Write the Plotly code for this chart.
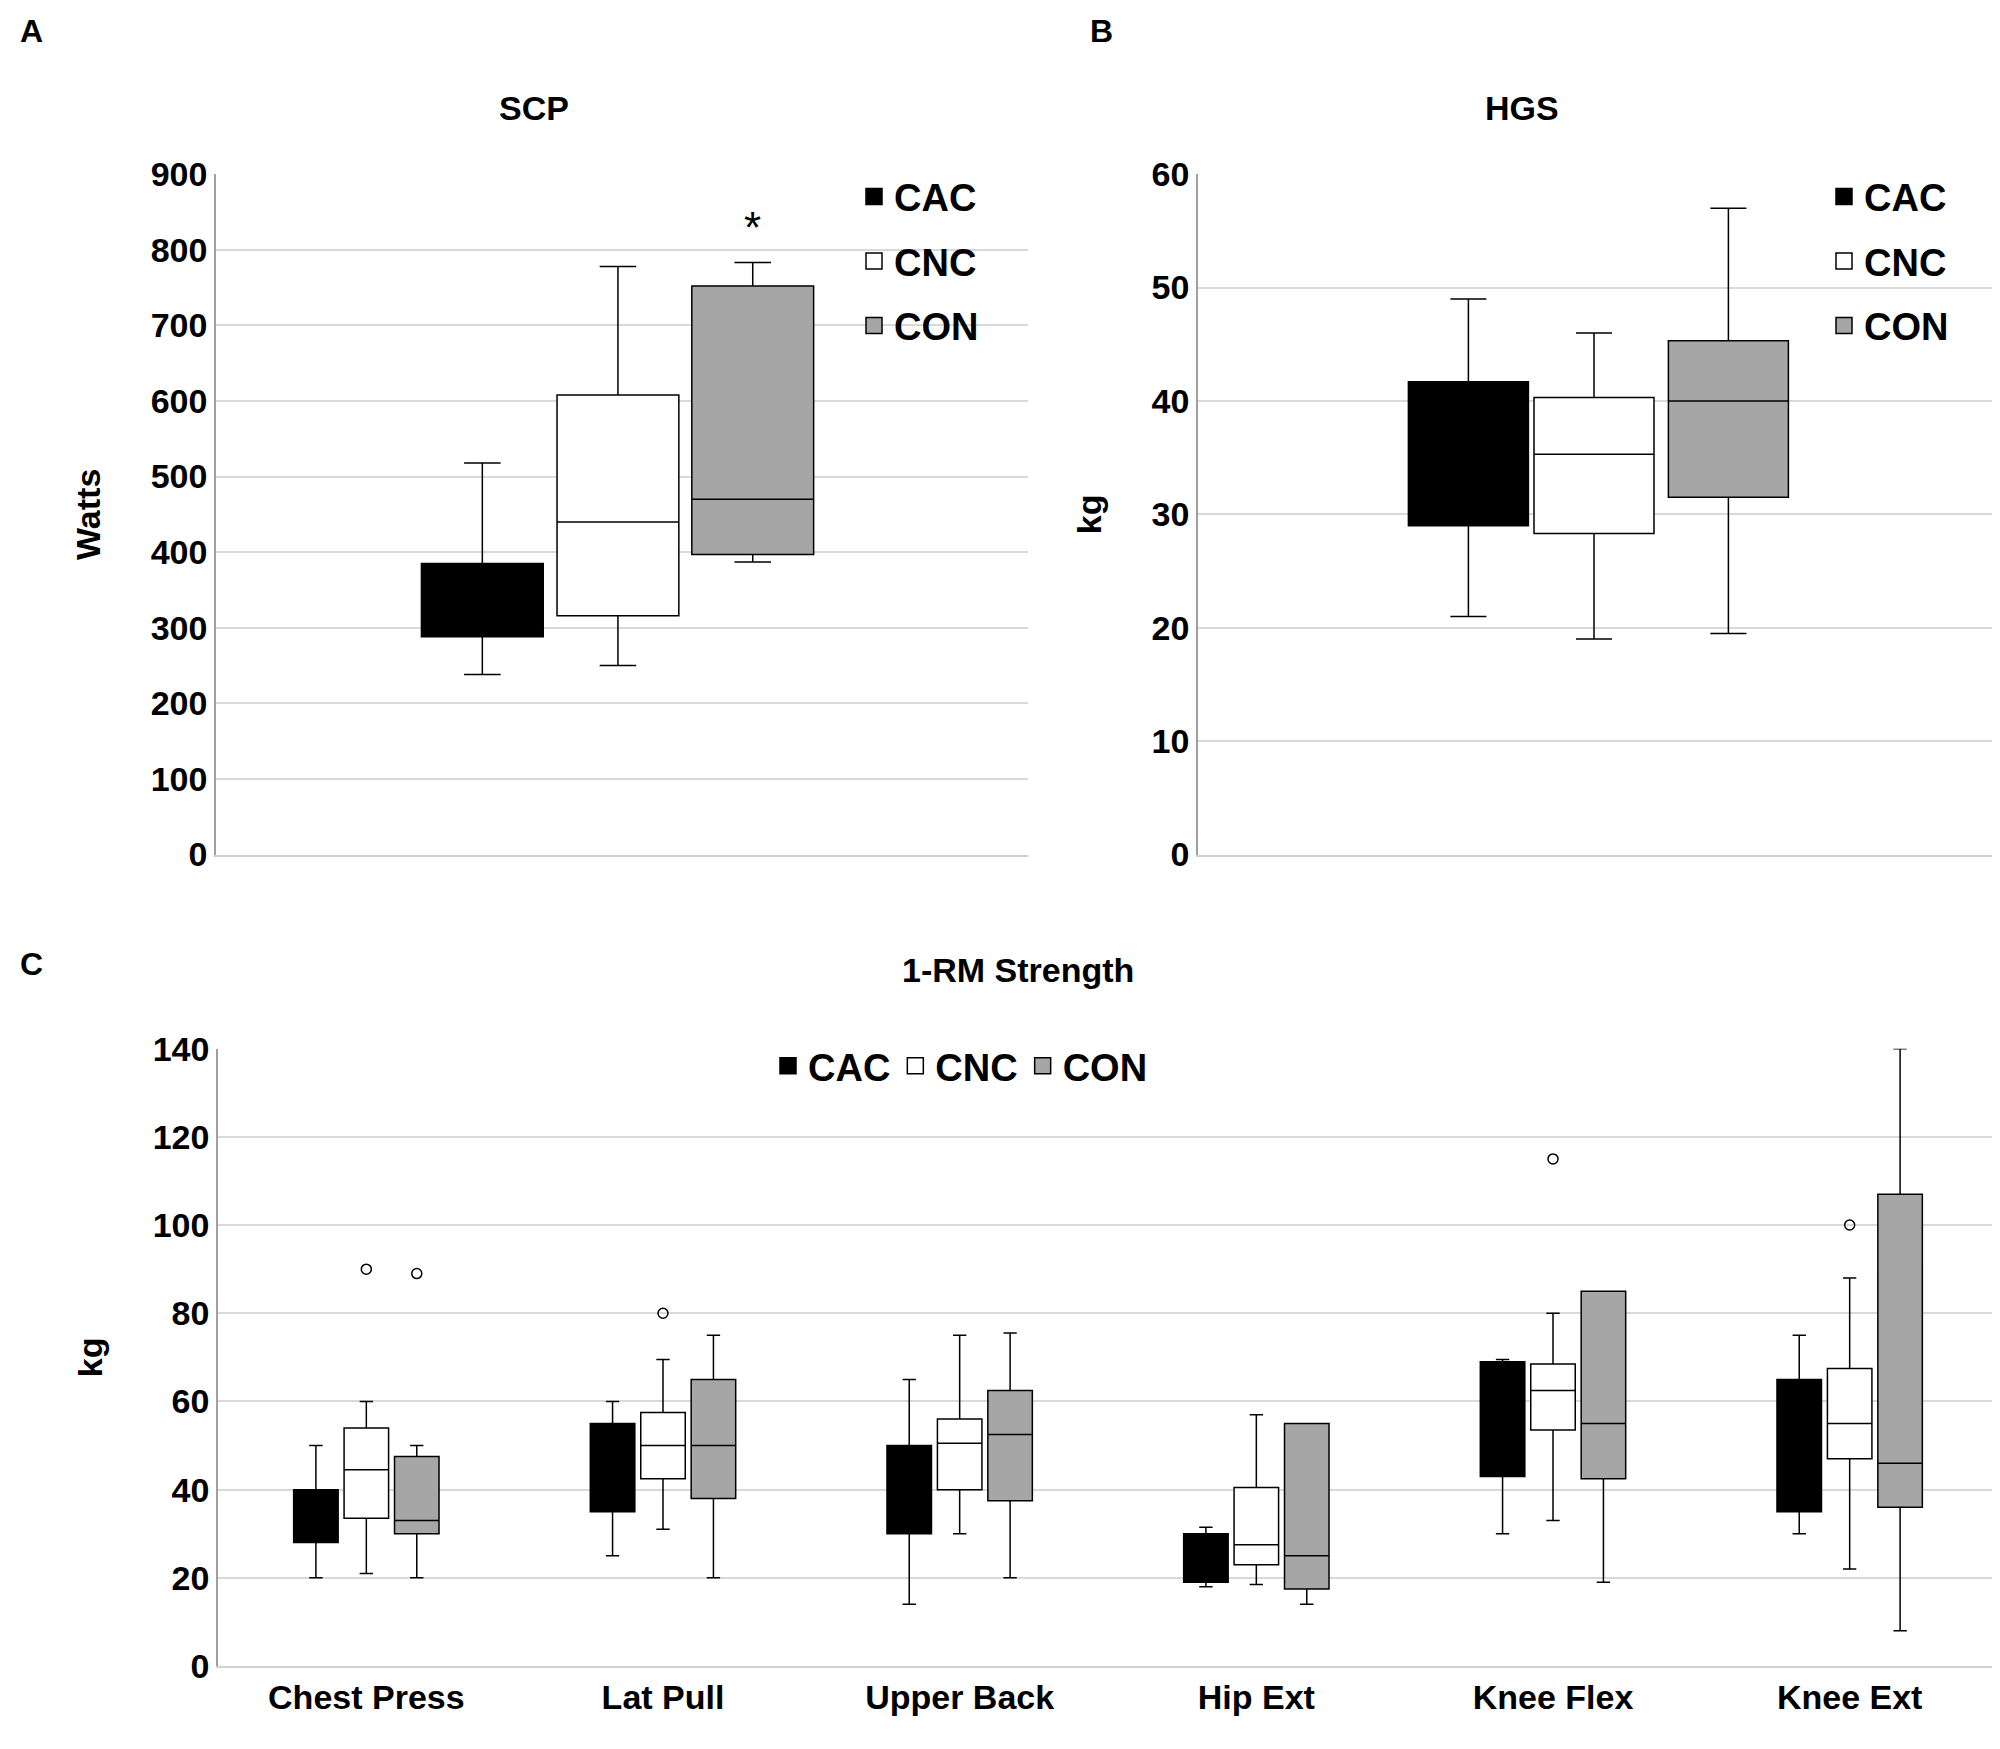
import plotly.graph_objects as go

groups = ["CAC", "CNC", "CON"]
fills = ["black", "white", "#a6a6a6"]

# Panel A: SCP (Watts) [low, q1, median, q3, high]
scp = {"CAC": [238, 288, 385, 385, 518],
       "CNC": [250, 316, 440, 608, 778],
       "CON": [387, 397, 470, 752, 783]}
# Panel B: HGS (kg)
hgs = {"CAC": [21, 29, 41.7, 41.7, 49],
       "CNC": [19, 28.3, 35.3, 40.3, 46],
       "CON": [19.5, 31.5, 40, 45.3, 57]}
# Panel C: 1-RM strength (kg)
exercises = ["Chest Press", "Lat Pull", "Upper Back", "Hip Ext", "Knee Flex", "Knee Ext"]
rm = {
    "CAC": [[20, 28, 40, 40, 50], [25, 35, 55, 55, 60], [14, 30, 50, 50, 65],
            [18, 19, 30, 30, 31.5], [30, 43, 69, 69, 69.5], [30, 35, 65, 65, 75]],
    "CNC": [[21, 33.5, 44.5, 54, 60], [31, 42.5, 50, 57.5, 69.5], [30, 40, 50.5, 56, 75],
            [18.5, 23, 27.5, 40.5, 57], [33, 53.5, 62.5, 68.5, 80], [22, 47, 55, 67.5, 88]],
    "CON": [[20, 30, 33, 47.5, 50], [20, 38, 50, 65, 75], [20, 37.5, 52.5, 62.5, 75.5],
            [14, 17.5, 25, 55, 55], [19, 42.5, 55, 85, 85], [8, 36, 46, 107, 140]],
}
outliers = {"CNC": [(0, 90), (1, 80), (4, 115), (5, 100)], "CON": [(0, 89)]}

FONT = "Liberation Sans"
fig = go.Figure()

posA = [0.328, 0.495, 0.661]
posB = [0.338, 0.495, 0.663]
offC = [-0.17, 0, 0.17]

def box(x, vals, i, xa, ya, width):
    return go.Box(x=x, lowerfence=[v[0] for v in vals], q1=[v[1] for v in vals],
                  median=[v[2] for v in vals], q3=[v[3] for v in vals],
                  upperfence=[v[4] for v in vals], fillcolor=fills[i],
                  line=dict(color="black", width=1.5), width=width, name=groups[i],
                  xaxis=xa, yaxis=ya, showlegend=False, boxpoints=False, whiskerwidth=0.3)

def leg(i, xa, ya, legend):
    return go.Scatter(x=[None], y=[None], mode="markers", name="<b>%s</b>" % groups[i],
                      marker=dict(symbol="square", size=26, color=fills[i],
                                  line=dict(color="black", width=1.5)),
                      xaxis=xa, yaxis=ya, legend=legend, legendgroup=legend + groups[i])

for i, g in enumerate(groups):
    fig.add_trace(box([posA[i]], [scp[g]], i, "x", "y", 0.15))
    fig.add_trace(box([posB[i]], [hgs[g]], i, "x2", "y2", 0.15))
    fig.add_trace(box([k + offC[i] for k in range(6)], rm[g], i, "x3", "y3", 0.15))
for i, g in enumerate(groups):
    if g in outliers:
        fig.add_trace(go.Scatter(x=[k + offC[i] for k, _ in outliers[g]], y=[v for _, v in outliers[g]],
                                 mode="markers", marker=dict(symbol="circle-open", size=10, color="black",
                                 line=dict(width=1.5)), xaxis="x3", yaxis="y3", showlegend=False))
for i in range(3):
    fig.add_trace(leg(i, "x", "y", "legend"))
    fig.add_trace(leg(i, "x2", "y2", "legend2"))
    fig.add_trace(leg(i, "x3", "y3", "legend3"))

tick = dict(family=FONT, size=34, color="black", weight="bold")
yax = dict(showgrid=True, gridcolor="#d9d9d9", gridwidth=1.5, showline=True, linecolor="#a0a0a0",
           linewidth=1.5, tickfont=tick, ticks="", zeroline=False, automargin=False)
xax = dict(showgrid=False, showline=True, linecolor="#d0d0d0", linewidth=1.5, zeroline=False,
           automargin=False, fixedrange=True)
ytitle = lambda t: dict(text="<b>%s</b>" % t, font=dict(family=FONT, size=34), standoff=40)
legfont = dict(family=FONT, size=38)

fig.update_layout(
    width=2000, height=1749, plot_bgcolor="white", paper_bgcolor="white",
    margin=dict(l=0, r=0, t=0, b=0),
    font=dict(family=FONT, color="black"),
    xaxis=dict(xax, domain=[0.104, 0.510], range=[0, 1], showticklabels=False),
    yaxis=dict(yax, domain=[0.516, 0.905], range=[0, 900], dtick=100, title=ytitle("Watts")),
    xaxis2=dict(xax, domain=[0.595, 0.995], range=[0, 1], showticklabels=False, anchor="y2"),
    yaxis2=dict(yax, domain=[0.516, 0.905], range=[0, 60], dtick=10, anchor="x2", title=ytitle("kg")),
    xaxis3=dict(xax, domain=[0.105, 0.995], range=[-0.5, 5.5], anchor="y3",
                tickvals=list(range(6)), ticktext=exercises, tickfont=tick),
    yaxis3=dict(yax, domain=[0.052, 0.405], range=[0, 140], dtick=20, anchor="x3", title=ytitle("kg")),
    legend=dict(x=0.423, y=0.91, xanchor="left", yanchor="top", font=legfont,
                bgcolor="rgba(0,0,0,0)", tracegroupgap=12, itemwidth=30),
    legend2=dict(x=0.908, y=0.91, xanchor="left", yanchor="top", font=legfont,
                 bgcolor="rgba(0,0,0,0)", tracegroupgap=12, itemwidth=30),
    legend3=dict(x=0.38, y=0.413, xanchor="left", yanchor="top", orientation="h",
                 font=legfont, bgcolor="rgba(0,0,0,0)", itemwidth=30),
    showlegend=True,
)

ann = [
    ("<b>A</b>", 0.005, 0.998, 32), ("<b>B</b>", 0.54, 0.998, 32), ("<b>C</b>", 0.005, 0.465, 32),
    ("<b>SCP</b>", 0.263, 0.955, 34), ("<b>HGS</b>", 0.757, 0.955, 34),
    ("<b>1-RM Strength</b>", 0.505, 0.462, 34),
]
for t, x, y, s in ann:
    fig.add_annotation(text=t, x=x, y=y, xref="paper", yref="paper", showarrow=False,
                       xanchor="left" if len(t) < 10 else "center", yanchor="top",
                       font=dict(family=FONT, size=s, color="black"))
fig.add_annotation(text="*", x=posA[2], y=830, xref="x", yref="y", showarrow=False,
                   font=dict(family=FONT, size=44, color="black"))
fig.write_html("out.html")
